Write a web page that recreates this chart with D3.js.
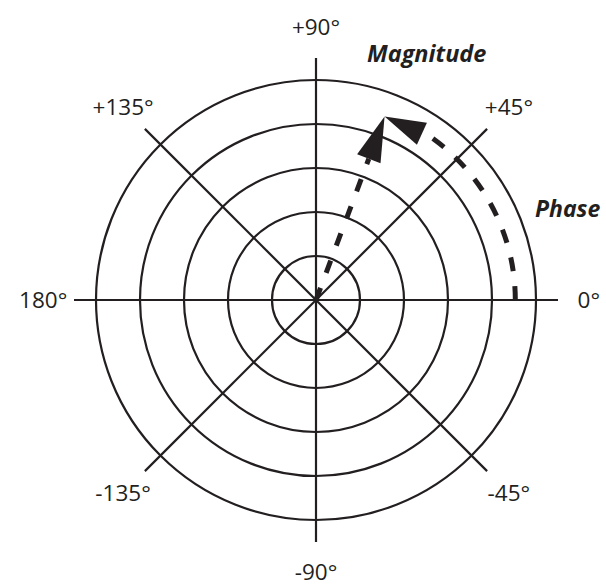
<!DOCTYPE html>
<html>
<head>
<meta charset="utf-8">
<script src="https://cdn.jsdelivr.net/npm/d3@7"></script>
<style>
  html, body { margin: 0; padding: 0; background: #ffffff; }
  svg { display: block; }
</style>
</head>
<body>
<div id="chart"></div>
<script>
// ---- data ----
const ringValues = [1, 2, 3, 4, 5];
const spokeAngles = [0, 45, 90, 135, 180, -135, -90, -45];
const spokeLabels = ["0°", "+45°", "+90°", "+135°", "180°", "-135°", "-90°", "-45°"];
const vectorMagnitude = [4.45];
const vectorPhase = [69.5];
const annotationLabels = ["Magnitude", "Phase"];

// ---- layout ----
const W = 606, H = 588;
const cx = 316, cy = 300;
const ink = "#231f20";

const svg = d3.select("#chart").append("svg")
  .attr("width", W).attr("height", H);

const r = d3.scaleLinear().domain([0, 5]).range([0, 220]);
const ang = d3.scaleLinear().domain([0, 360]).range([0, 2 * Math.PI]);
const px = (v, a) => cx + r(v) * Math.cos(ang(a));
const py = (v, a) => cy - r(v) * Math.sin(ang(a));

const g = svg.append("g");

// rings
g.selectAll("circle.ring").data(ringValues).join("circle")
  .attr("class", "ring")
  .attr("cx", cx).attr("cy", cy)
  .attr("r", d => r(d))
  .attr("fill", "none").attr("stroke", ink).attr("stroke-width", 2.2);

// spokes
g.selectAll("line.spoke").data(spokeAngles).join("line")
  .attr("class", "spoke")
  .attr("x1", cx).attr("y1", cy)
  .attr("x2", d => px(5.5, d)).attr("y2", d => py(5.5, d))
  .attr("stroke", ink).attr("stroke-width", 2.2);

// spoke labels
g.selectAll("text.slab").data(spokeAngles).join("text")
  .attr("class", "slab")
  .attr("x", d => px(6.2, d))
  .attr("y", d => py(6.2, d))
  .attr("dy", "0.34em")
  .attr("text-anchor", "middle")
  .attr("font-family", "'Open Sans', sans-serif")
  .attr("font-size", 22.5)
  .attr("fill", ink)
  .text((d, i) => spokeLabels[i]);

// ---- vector (magnitude arrow) ----
const mag = vectorMagnitude[0], ph = vectorPhase[0];
const tipX = px(mag, ph), tipY = py(mag, ph);
const headLen = 45, headHalf = 12.5;
const ux = Math.cos(ang(ph)), uy = -Math.sin(ang(ph));
const baseX = tipX - ux * headLen, baseY = tipY - uy * headLen;

g.append("line")
  .attr("x1", cx).attr("y1", cy)
  .attr("x2", baseX).attr("y2", baseY)
  .attr("stroke", ink).attr("stroke-width", 5)
  .attr("stroke-dasharray", "13,16");

g.append("path")
  .attr("d", d3.line()([
    [tipX, tipY],
    [baseX - uy * headHalf, baseY + ux * headHalf],
    [baseX + uy * headHalf, baseY - ux * headHalf]
  ]) + "Z")
  .attr("fill", ink);

// ---- phase arc ----
const arcR = r(4.53);
const arcEnd = ph - 12;
const p = d3.path();
p.arc(cx, cy, arcR, 0, -ang(arcEnd), true);
g.append("path")
  .attr("d", p.toString())
  .attr("fill", "none")
  .attr("stroke", ink).attr("stroke-width", 5)
  .attr("stroke-dasharray", "14,15");

// phase arrowhead
const bX = px(4.48, arcEnd), bY = py(4.48, arcEnd);
let dx = tipX - bX, dy = tipY - bY;
const len = Math.hypot(dx, dy); dx /= len; dy /= len;
g.append("path")
  .attr("d", d3.line()([
    [tipX, tipY],
    [bX - dy * 12, bY + dx * 12],
    [bX + dy * 12, bY - dx * 12]
  ]) + "Z")
  .attr("fill", ink);

// annotations
g.append("text")
  .attr("x", 367).attr("y", 62)
  .attr("font-family", "'Open Sans', sans-serif")
  .attr("font-size", 23.5).attr("font-weight", "bold").attr("font-style", "italic")
  .attr("fill", ink)
  .text(annotationLabels[0]);

g.append("text")
  .attr("x", 535).attr("y", 217)
  .attr("font-family", "'Open Sans', sans-serif")
  .attr("font-size", 23).attr("font-weight", "bold").attr("font-style", "italic")
  .attr("fill", ink)
  .text(annotationLabels[1]);
</script>
</body>
</html>
